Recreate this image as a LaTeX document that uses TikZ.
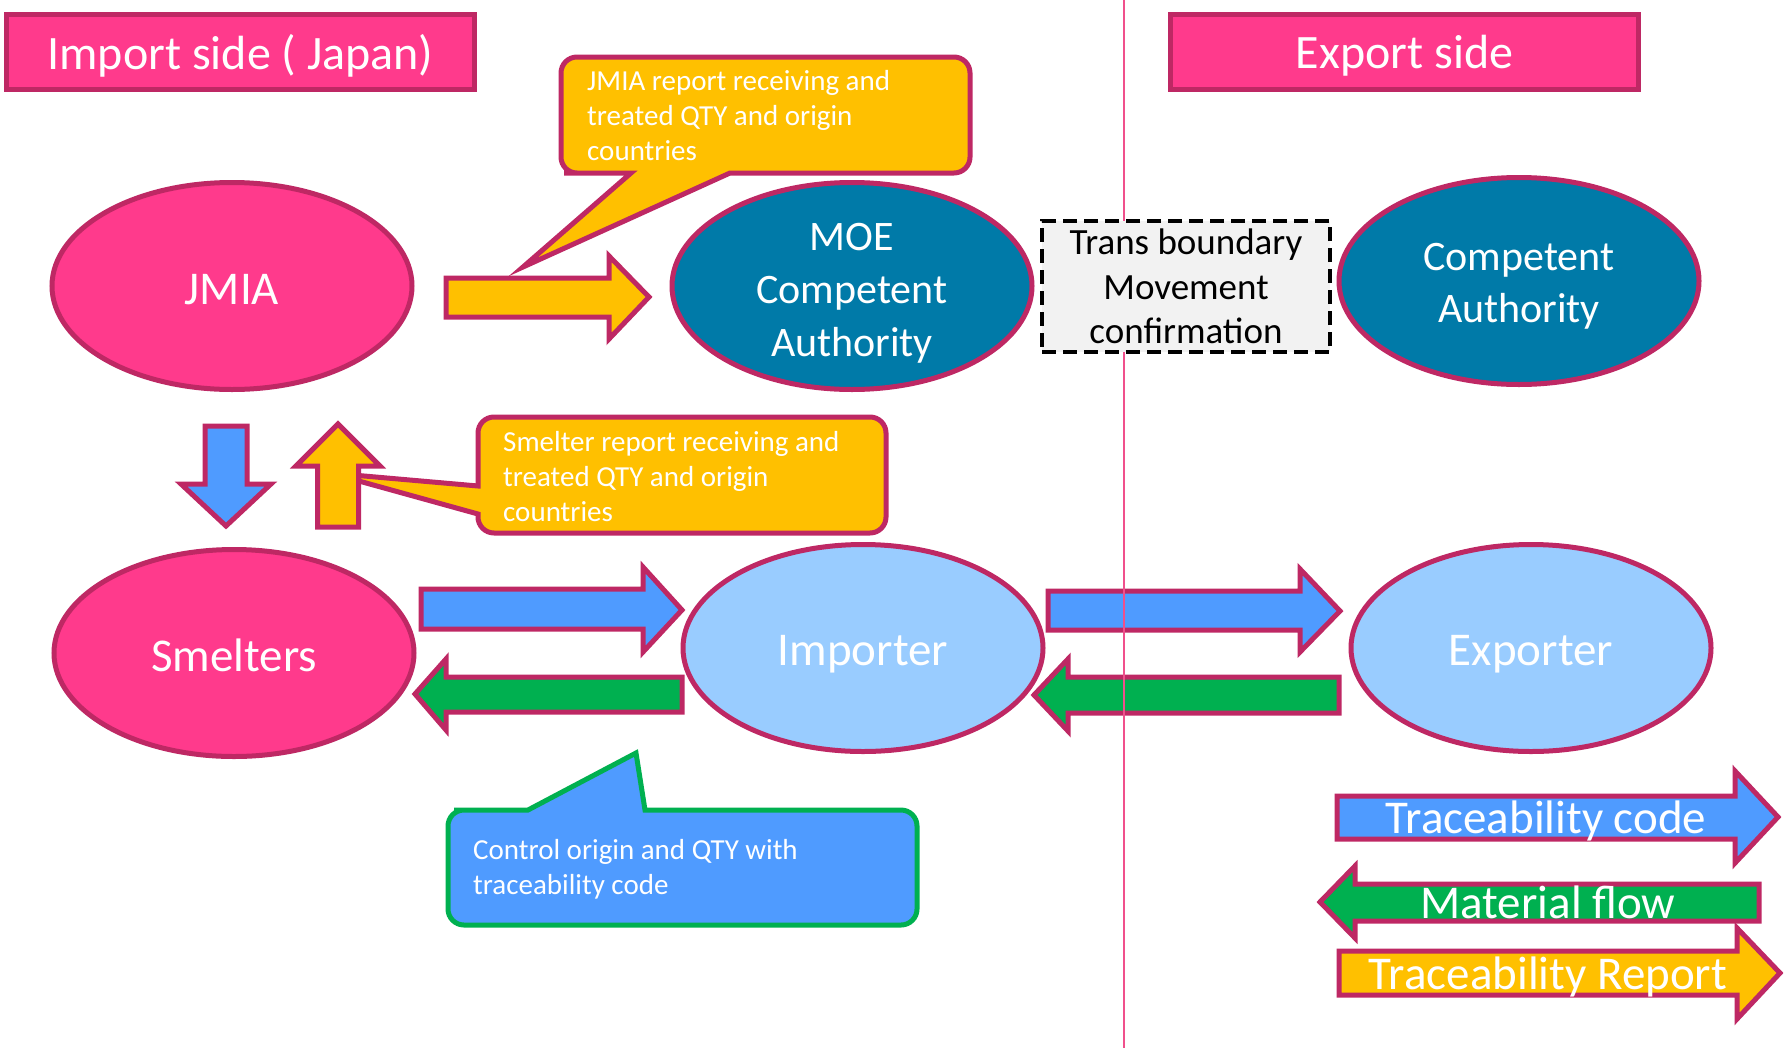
\documentclass[tikz,border=0pt]{standalone}
\usepackage{fontspec}
\setmainfont{Carlito}
\usetikzlibrary{shapes.geometric}
\definecolor{pinkF}{RGB}{255,58,140}
\definecolor{bord}{RGB}{190,40,100}
\definecolor{tealF}{RGB}{0,122,168}
\definecolor{lblue}{RGB}{153,204,255}
\definecolor{bblue}{RGB}{79,155,255}
\definecolor{yel}{RGB}{255,192,0}
\definecolor{grn}{RGB}{0,176,80}
\definecolor{vline}{RGB}{240,80,140}
\definecolor{boxgray}{RGB}{242,242,242}
\begin{document}
\begin{tikzpicture}[x=1pt,y=-1pt,
  ell/.style={ellipse, draw=bord, line width=5pt, inner sep=0pt,
    minimum width=360pt, minimum height=207pt},
  elltext/.style={text=white, align=center, inner sep=0pt,
    font=\fontsize{47}{53}\selectfont},
  hdr/.style={draw=bord, fill=pinkF, line width=5pt, minimum width=468pt, minimum height=75pt},
  hdrtext/.style={text=white, inner sep=0pt, font=\fontsize{48}{54}\selectfont},
  blockarrow/.style={draw=bord, line width=5pt, line join=miter},
  callout/.style={draw=bord, fill=yel, line width=5pt, line join=miter},
  callouttext/.style={text=white, align=left, inner sep=0pt, anchor=west,
    font=\fontsize{29}{35}\selectfont},
  legendtext/.style={text=white, inner sep=0pt, anchor=base,
    font=\fontsize{47}{52}\selectfont}
]
\useasboundingbox (0,0) rectangle (1787,1052);

% headers
\node[hdr] (imp) at (240.5,52) {};
\node[hdrtext] (impT) at (240.5,55.5) {Import side ( Japan)};
\node[hdr] (exp) at (1404.5,52) {};
\node[hdrtext] (expT) at (1404.5,55.5) {Export side};

% ellipses
\node[ell, fill=pinkF] (jmia) at (232,286) {};
\node[elltext] (jmiaT) at (232,289.5) {JMIA};
\node[ell, fill=tealF] (moe) at (852,286) {};
\node[elltext, font=\fontsize{42}{53}\selectfont] (moeT) at (852,293) {MOE\\Competent\\Authority};
\node[ell, fill=tealF] (ca) at (1519,281) {};
\node[elltext, font=\fontsize{42}{52}\selectfont] (caT) at (1519,286) {Competent\\Authority};
\node[ell, fill=pinkF] (smelt) at (234,653) {};
\node[elltext] (smeltT) at (234,655) {Smelters};
\node[ell, fill=lblue] (importer) at (863,648) {};
\node[elltext] (importerT) at (863,654) {Importer};
\node[ell, fill=lblue] (exporter) at (1531,648) {};
\node[elltext] (exporterT) at (1531,654) {Exporter};

% JMIA -> MOE report arrow
\draw[blockarrow, fill=yel] (446,278) -- (609,278) -- (609,256) -- (649,297) -- (609,339) -- (609,317) -- (446,317) -- cycle;
% JMIA -> Smelters (down, blue)
\draw[blockarrow, fill=bblue] (205,426) -- (247,426) -- (247,484) -- (271,484) -- (226,526) -- (181,484) -- (205,484) -- cycle;

% callout 2 (smelter report) drawn before the up arrow
\draw[callout] (478,460) -- (478,486) -- (330,473) -- (478,514) -- (478,520) [rounded corners=16] -- (478,533) -- (886,533) -- (886,417) -- (478,417) -- (478,460) [sharp corners] -- cycle;
\node[callouttext] (c2) at (503,477) {Smelter report receiving and\\treated QTY and origin\\countries};

% Smelters -> JMIA (up, yellow)
\draw[blockarrow, fill=yel] (317.5,527) -- (317.5,466) -- (296,466) -- (338,424) -- (380,466) -- (358.5,466) -- (358.5,527) -- cycle;

% Smelters -> Importer (blue)
\draw[blockarrow, fill=bblue] (421,589) -- (643,589) -- (643,567) -- (682,610) -- (643,652) -- (643,629) -- (421,629) -- cycle;
% Importer -> Smelters (green)
\draw[blockarrow, fill=grn] (682,677) -- (446,677) -- (446,659) -- (415,694) -- (446,730) -- (446,712) -- (682,712) -- cycle;
% Importer -> Exporter (blue)
\draw[blockarrow, fill=bblue] (1048,591) -- (1300,591) -- (1300,569) -- (1340,611) -- (1300,652) -- (1300,630) -- (1048,630) -- cycle;
% Exporter -> Importer (green)
\draw[blockarrow, fill=grn] (1339,677) -- (1068,677) -- (1068,659) -- (1034,695) -- (1068,731) -- (1068,713) -- (1339,713) -- cycle;

% vertical border line
\coordinate (vtop) at (1124,0);
\coordinate (vbot) at (1124,1048);
\draw[vline, line width=2pt] (vtop) -- (vbot);

% trans boundary box
\node[draw=black, fill=boxgray, line width=4.5pt, dash pattern=on 14pt off 7pt,
  minimum width=288pt, minimum height=131pt, inner sep=0pt, align=center,
  font=\fontsize{37}{44.5}\selectfont] (tb) at (1186,286.5) {Trans boundary\\Movement\\confirmation};

% callout 1 (JMIA report)
\draw[callout] (600,173) -- (631,173) -- (523,267) -- (730,173) -- (800,173) [rounded corners=16] -- (970,173) -- (970,57) -- (561,57) -- (561,173) -- (580,173) [sharp corners] -- cycle;
\node[callouttext] (c1) at (587,116) {JMIA report receiving and\\treated QTY and origin\\countries};

% green-bordered callout
\draw[draw=grn, fill=bblue, line width=5pt, line join=miter] (490,810) -- (528,810) -- (636,753) -- (645,810) -- (700,810) [rounded corners=16] -- (917,810) -- (917,925) -- (448,925) -- (448,810) -- (470,810) [sharp corners] -- cycle;
\node[callouttext] (c3) at (473,869) {Control origin and QTY with\\traceability code};

% legend
\draw[blockarrow, fill=bblue] (1337,796) -- (1735,796) -- (1735,771) -- (1778,817) -- (1735,863) -- (1735,839) -- (1337,839) -- cycle;
\node[legendtext] (lg1) at (1546,833) {Traceability code};
\draw[blockarrow, fill=grn] (1759,884) -- (1355,884) -- (1355,866) -- (1320,902) -- (1355,938) -- (1355,921) -- (1759,921) -- cycle;
\node[legendtext] (lg2) at (1548,918) {Material flow};
\draw[blockarrow, fill=yel] (1339,951) -- (1737,951) -- (1737,928) -- (1780,973) -- (1737,1019) -- (1737,995) -- (1339,995) -- cycle;
\node[legendtext] (lg3) at (1548,989) {Traceability Report};
\end{tikzpicture}
\end{document}
